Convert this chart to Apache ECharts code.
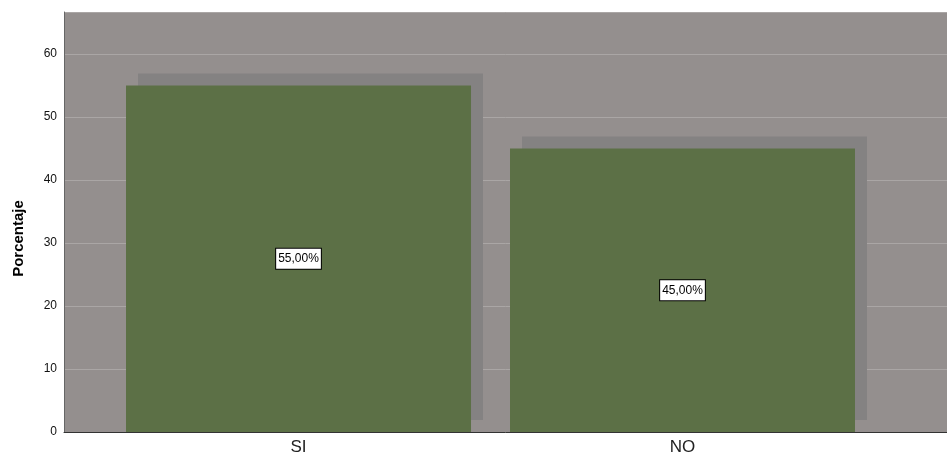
<!DOCTYPE html>
<html><head><meta charset="utf-8">
<script src="https://cdn.jsdelivr.net/npm/echarts@6/dist/echarts.min.js"></script>
<style>html,body{margin:0;padding:0;background:#fff}#c{width:947px;height:459px}</style>
</head><body><div id="c"></div>
<script>
var categories = ['SI', 'NO'];
var values = [55, 45];
var yTicks = [0, 10, 20, 30, 40, 50, 60];
var yTitle = 'Porcentaje';

var chart = echarts.init(document.getElementById('c'), null, {renderer: 'canvas'});
var data = categories.map(function (c, i) { return [i + 1, values[i]]; });
chart.setOption({
  animation: false,
  grid: {left: 64, right: 0, top: 12, bottom: 27, show: true, backgroundColor: '#948f8e', borderWidth: 0},
  xAxis: {
    type: 'value', min: 0.3893, max: 2.6888,
    splitLine: {show: false},
    axisLine: {show: true, onZero: false, lineStyle: {color: '#333', width: 1}},
    axisTick: {show: false},
    axisLabel: {
      customValues: categories.map(function (c, i) { return i + 1; }),
      formatter: function (v) { return categories[Math.round(v) - 1] || ''; },
      fontFamily: 'Liberation Sans, Arial, sans-serif', fontSize: 17, color: '#222', margin: 7
    }
  },
  yAxis: {
    type: 'value', min: 0, max: 66.67, interval: 10,
    name: yTitle, nameLocation: 'middle', nameRotate: 90, nameGap: 38,
    nameTextStyle: {fontFamily: 'Liberation Sans, Arial, sans-serif', fontSize: 15, fontWeight: 'bold', color: '#000', padding: [0, 33, 0, 0]},
    axisLine: {show: true, lineStyle: {color: '#666', width: 1}},
    axisTick: {show: false},
    axisLabel: {
      showMaxLabel: false,
      formatter: function (v) { return yTicks.indexOf(v) >= 0 ? String(v) : ''; },
      fontFamily: 'Liberation Sans, Arial, sans-serif', fontSize: 12, color: '#111', margin: 7
    },
    splitLine: {show: true, lineStyle: {color: '#aaa6a5', width: 1}}
  },
  series: [{
    type: 'bar',
    data: data,
    barWidth: 345,
    itemStyle: {color: '#5c7046', shadowColor: '#848282', shadowBlur: 0, shadowOffsetX: 12, shadowOffsetY: -12},
    label: {
      show: true, position: 'inside',
      formatter: function (p) { return p.value[1].toFixed(2).replace('.', ',') + '%'; },
      fontFamily: 'Liberation Sans, Arial, sans-serif', fontSize: 12, color: '#000',
      backgroundColor: '#fff', borderColor: '#000', borderWidth: 1, padding: [4, 2, 4, 2]
    }
  }]
});
</script></body></html>
